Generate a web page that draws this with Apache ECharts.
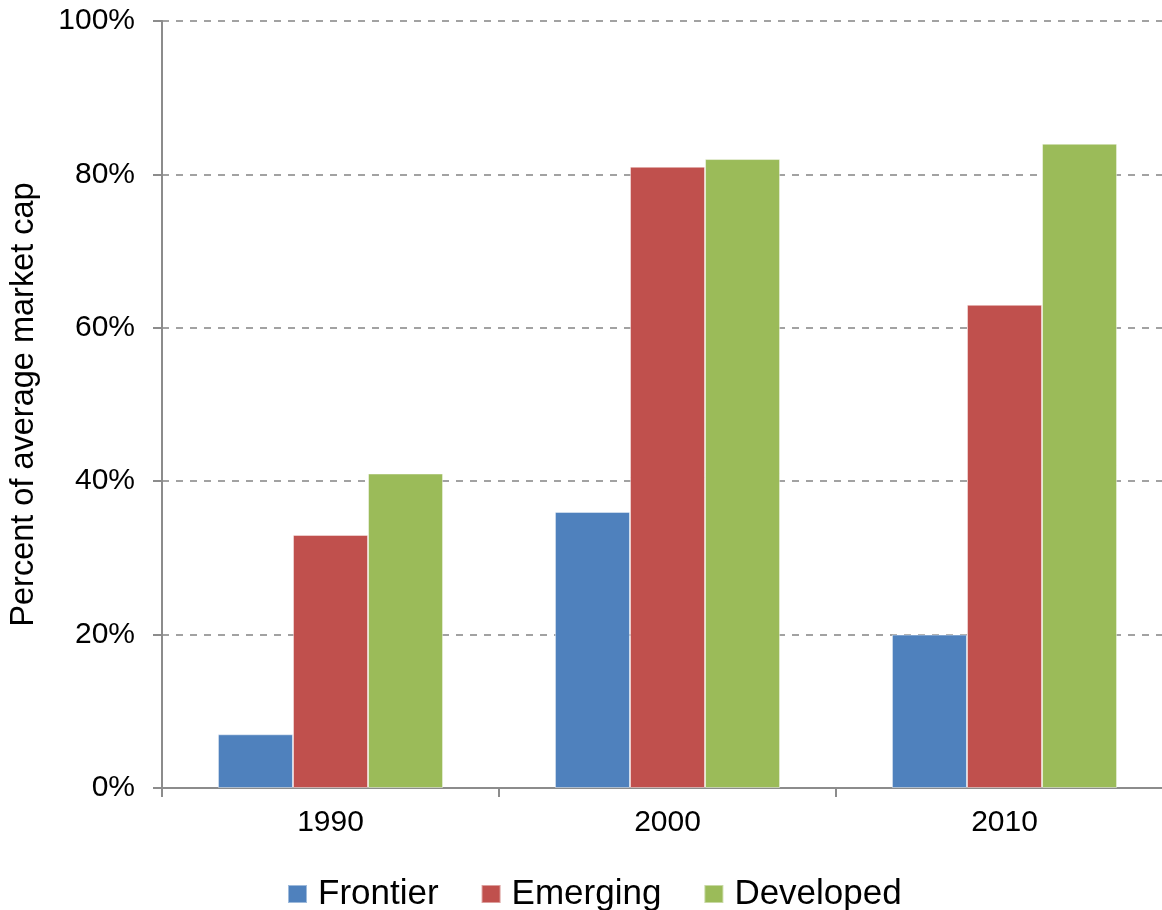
<!DOCTYPE html>
<html>
<head>
<meta charset="utf-8">
<script src="https://cdn.jsdelivr.net/npm/echarts@6/dist/echarts.min.js"></script>
<style>html,body{margin:0;padding:0;background:#fff;overflow:hidden;}#c{width:1173px;height:910px;}</style>
</head>
<body>
<div id="c"></div>
<script>
const categories = ['1990', '2000', '2010'];
const frontier = [7, 36, 20];
const emerging = [33, 81, 63];
const developed = [41, 82, 84];
const yTicks = [0, 20, 40, 60, 80, 100];

const chart = echarts.init(document.getElementById('c'), null, {renderer: 'canvas'});
const font = '"Liberation Sans", Arial, sans-serif';
function bar(name, data, color) {
  return {
    name: name, type: 'bar', data: data,
    barGap: '0%', barCategoryGap: '33.2%',
    itemStyle: {color: color, borderColor: 'rgba(255,255,255,0.45)', borderWidth: 1},
    emphasis: {disabled: true}
  };
}
chart.setOption({
  animation: false,
  textStyle: {fontFamily: font},
  grid: {left: 162, top: 21, right: 0, bottom: 122, containLabel: false},
  legend: {
    data: ['Frontier', 'Emerging', 'Developed'],
    left: 282, top: 871,
    itemWidth: 19, itemHeight: 18, itemGap: 42,
    icon: 'rect',
    textStyle: {fontSize: 35, lineHeight: 36, color: '#000', fontFamily: font, padding: [0, 0, 0, 6]}
  },
  xAxis: {
    type: 'category', data: categories,
    axisLine: {lineStyle: {color: '#8c8c8c', width: 2}},
    axisTick: {show: true, length: 9, lineStyle: {color: '#8c8c8c', width: 2}},
    axisLabel: {fontSize: 30, color: '#000', margin: 20, fontFamily: font},
    splitLine: {show: false}
  },
  yAxis: {
    type: 'value', min: 0, max: 100, interval: 20,
    name: 'Percent of average market cap',
    nameLocation: 'middle', nameGap: 121,
    nameTextStyle: {fontSize: 32.5, color: '#000', fontFamily: font},
    axisLine: {show: true, lineStyle: {color: '#8c8c8c', width: 2}},
    axisTick: {show: true, length: 9, lineStyle: {color: '#8c8c8c', width: 2}},
    axisLabel: {fontSize: 30, color: '#000', margin: 27, fontFamily: font,
      formatter: v => yTicks.includes(v) ? v + '%' : ''},
    splitLine: {show: true, lineStyle: {color: '#8c8c8c', width: 1.6, type: [7, 7]}}
  },
  series: [
    bar('Frontier', frontier, '#4F81BD'),
    bar('Emerging', emerging, '#C0504D'),
    bar('Developed', developed, '#9BBB59')
  ]
});
</script>
</body>
</html>
